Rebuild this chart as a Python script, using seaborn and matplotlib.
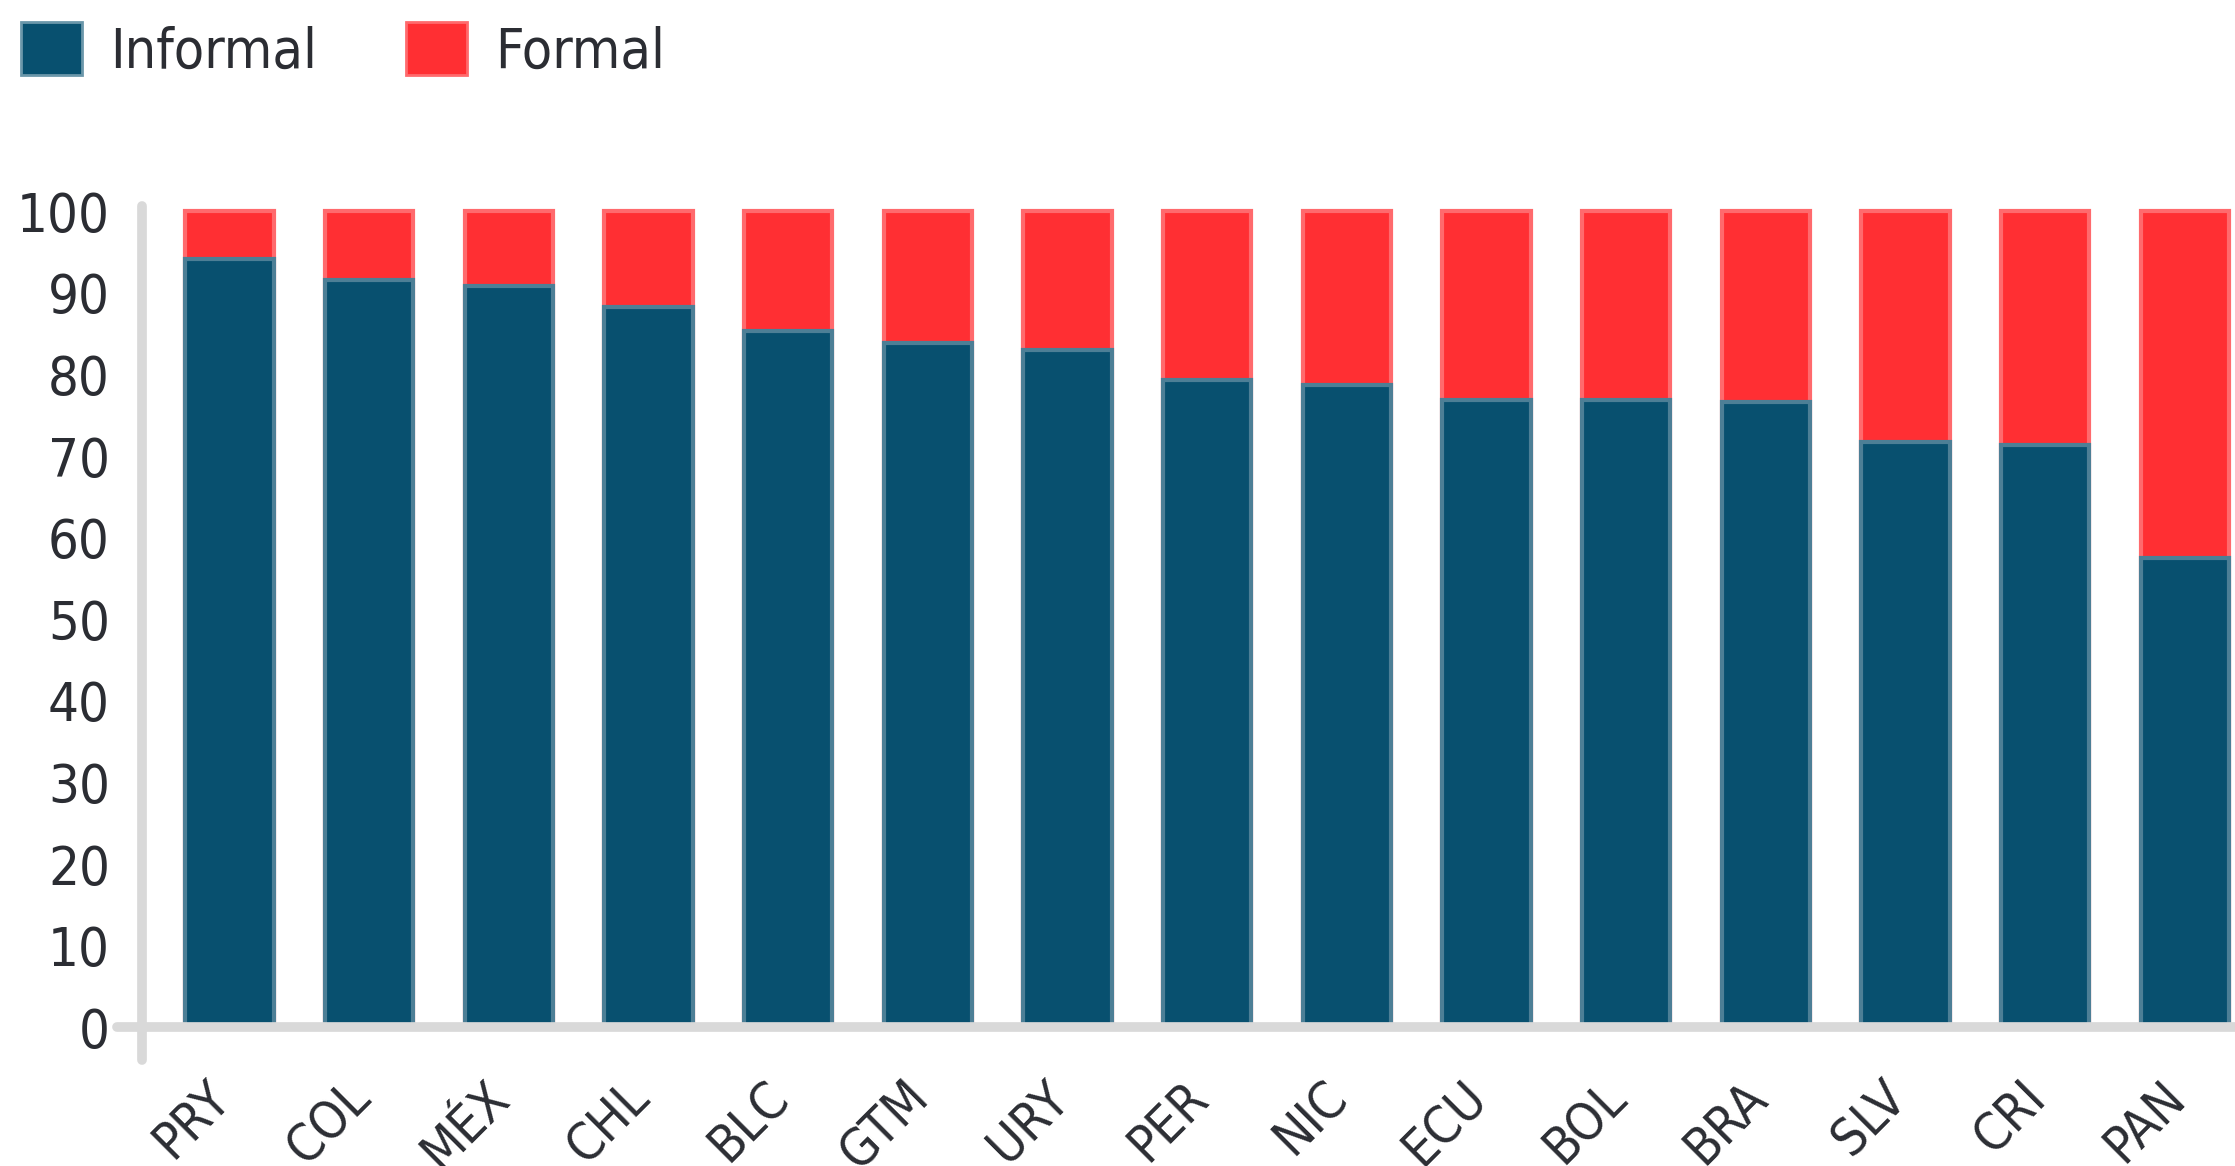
import matplotlib
matplotlib.use("Agg")
import matplotlib.pyplot as plt
import matplotlib.transforms as mtransforms
import seaborn as sns
import pandas as pd
from matplotlib.patches import Patch

# Data
countries = ["PRY", "COL", "MÉX", "CHL", "BLC", "GTM", "URY", "PER",
             "NIC", "ECU", "BOL", "BRA", "SLV", "CRI", "PAN"]
informal = [94.1, 91.6, 90.8, 88.3, 85.3, 83.9, 83.0, 79.3,
            78.7, 76.9, 76.9, 76.6, 71.7, 71.3, 57.5]
formal = [5.9, 8.4, 9.2, 11.7, 14.7, 16.1, 17.0, 20.7,
          21.3, 23.1, 23.1, 23.4, 28.3, 28.7, 42.5]
yticks = list(range(0, 101, 10))

df = pd.DataFrame({"country": countries, "informal": informal, "formal": formal})
df["total"] = df["informal"] + df["formal"]

blue = "#08506f"
red = "#ff2f33"
text_color = "#2b2d33"
axis_gray = "#d9d9d9"

sns.set_style("white")
plt.rcParams["font.family"] = ["DejaVu Sans"]
plt.rcParams["font.stretch"] = "condensed"

fig = plt.figure(figsize=(22.35, 11.66), dpi=100)
ax = fig.add_axes([0.0635, 0.119, 0.9365, 0.704])

# stacked bars: red total first, blue informal on top
sns.barplot(data=df, x="country", y="total", color=red, width=0.633,
            edgecolor="#ff6a6d", linewidth=3, saturation=1, ax=ax)
sns.barplot(data=df, x="country", y="informal", color=blue, width=0.633,
            edgecolor="#4d7f96", linewidth=3, saturation=1, ax=ax)

ax.set_xlim(-0.627, 14.36)
ax.set_ylim(0, 100.6)
ax.set_yticks(yticks)
ax.set_xlabel("")
ax.set_ylabel("")
for s in ax.spines.values():
    s.set_visible(False)

# crosshair-style axis lines
ax.axvline(-0.627, ymin=-0.04, ymax=1, color=axis_gray, linewidth=7, clip_on=False, zorder=0)
ax.axhline(0, xmin=-0.012, xmax=1, color=axis_gray, linewidth=7, clip_on=False, zorder=5)

ax.tick_params(axis="y", length=0, pad=23, labelsize=39, labelcolor=text_color)
ax.tick_params(axis="x", length=0, pad=58, labelsize=37, labelcolor=text_color)
shift = mtransforms.ScaledTranslation(0.11, 0, fig.dpi_scale_trans)
for lab in ax.get_xticklabels():
    lab.set_rotation(45)
    lab.set_ha("right")
    lab.set_va("bottom")
    lab.set_rotation_mode("anchor")
    lab.set_transform(lab.get_transform() + shift)

handles = [Patch(facecolor=blue, edgecolor="#6b97aa", linewidth=2),
           Patch(facecolor=red, edgecolor="#ff6a6d", linewidth=2)]
fig.legend(handles, ["Informal", "Formal"], loc="upper left",
           bbox_to_anchor=(-0.003, 1.005), ncol=2, frameon=False, fontsize=40,
           handlelength=1.1, handleheight=1.1, handletextpad=0.5,
           columnspacing=1.6, labelcolor=text_color, borderaxespad=0.2,
           borderpad=0.3)

fig.savefig("out.png", dpi=100, facecolor="white")
